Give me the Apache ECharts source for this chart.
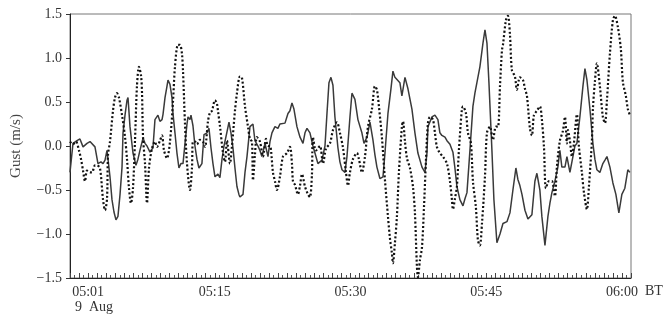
<!DOCTYPE html>
<html>
<head>
<meta charset="utf-8">
<script src="https://cdn.jsdelivr.net/npm/echarts@6/dist/echarts.min.js"></script>
<style>html,body{margin:0;padding:0;background:#fff}#c{width:671px;height:315px}</style>
</head>
<body>
<div id="c"></div>
<script>
// time in minutes after 05:00 (9 Aug, BT)
var tickMinutes = [1, 15, 30, 45, 60];
var tickLabels = ['05:01', '05:15', '05:30', '05:45', '06:00'];
var yTicks = [-1.5, -1.0, -0.5, 0.0, 0.5, 1.0, 1.5];

var solidT = [-1.00,-0.67,-0.23,0.10,0.44,0.88,1.21,1.76,2.09,2.42,2.65,2.87,3.09,3.20,3.42,3.64,3.86,4.08,4.30,4.53,4.75,4.86,5.08,5.30,5.41,5.63,5.96,6.29,6.51,6.73,7.07,7.29,7.51,7.84,8.17,8.39,8.72,8.94,9.17,9.28,9.50,9.72,9.83,10.05,10.27,10.38,10.60,10.82,11.04,11.26,11.49,11.71,11.93,12.04,12.26,12.37,12.59,12.81,13.03,13.25,13.58,13.81,14.03,14.14,14.36,14.58,14.80,15.02,15.35,15.57,15.80,16.02,16.35,16.57,16.79,17.01,17.23,17.45,17.67,17.78,18.12,18.34,18.56,18.89,19.22,19.44,19.77,19.99,20.21,20.55,20.88,21.10,21.32,21.65,21.98,22.20,22.42,22.76,23.09,23.31,23.53,23.75,24.08,24.42,24.75,24.97,25.19,25.52,25.85,26.18,26.40,26.85,27.18,27.40,27.62,27.84,28.06,28.28,28.61,28.83,29.06,29.39,29.61,29.94,30.16,30.49,30.82,31.26,31.49,31.82,32.15,32.48,32.70,32.92,33.25,33.59,33.81,34.14,34.47,34.69,34.91,35.13,35.46,35.68,36.02,36.35,36.79,37.12,37.45,37.90,38.23,38.45,38.56,39.00,39.33,39.66,39.88,40.10,40.44,40.66,40.99,41.32,41.54,41.76,42.09,42.43,42.65,42.87,43.20,43.53,43.75,43.97,44.30,44.64,44.86,45.08,45.30,45.63,45.85,46.18,46.52,46.85,47.07,47.29,47.62,47.95,48.28,48.50,48.72,48.95,49.28,49.61,49.83,50.05,50.38,50.60,50.93,51.15,51.49,51.82,52.04,52.26,52.59,52.92,53.14,53.36,53.70,53.92,54.25,54.58,54.80,55.02,55.35,55.69,55.91,56.13,56.46,56.79,57.01,57.23,57.56,57.89,58.12,58.34,58.67,59.00,59.33,59.66,59.99,60.32,60.65,60.88];
var solidV = [-0.30,0.03,0.06,0.08,-0.01,0.03,0.05,-0.01,-0.20,-0.18,-0.20,-0.16,-0.05,-0.15,-0.35,-0.61,-0.75,-0.84,-0.80,-0.55,-0.24,0.15,0.35,0.52,0.55,0.22,-0.08,-0.22,-0.15,-0.05,0.09,0.03,0.00,-0.07,-0.02,0.30,0.35,0.28,0.30,0.36,0.55,0.68,0.75,0.70,0.55,0.37,0.15,-0.08,-0.25,-0.20,-0.20,0.03,0.25,0.33,0.30,0.35,0.23,0.00,-0.15,-0.25,-0.20,0.13,0.12,0.15,0.20,-0.02,-0.20,-0.35,-0.32,-0.36,-0.15,0.00,0.16,0.27,0.15,-0.02,-0.25,-0.46,-0.55,-0.58,-0.55,-0.30,-0.12,0.22,0.25,0.06,0.00,-0.05,-0.12,0.03,-0.12,0.05,0.15,0.22,0.20,0.25,0.24,0.26,0.37,0.40,0.49,0.42,0.22,0.10,0.03,0.15,0.20,0.15,0.00,-0.12,-0.20,-0.16,0.00,0.37,0.72,0.78,0.69,0.33,-0.02,-0.18,-0.27,-0.30,-0.12,0.33,0.60,0.53,0.30,0.15,0.03,0.10,0.27,0.07,-0.10,-0.24,-0.37,-0.35,-0.08,0.37,0.65,0.85,0.78,0.76,0.72,0.57,0.78,0.65,0.42,0.15,-0.08,-0.24,-0.30,-0.08,0.22,0.33,0.35,0.30,0.15,0.12,0.10,0.06,0.02,-0.07,-0.25,-0.46,-0.61,-0.68,-0.60,-0.53,-0.05,0.45,0.60,0.72,0.90,1.17,1.32,1.17,0.72,-0.05,-0.61,-1.10,-1.00,-0.88,-0.90,-0.86,-0.76,-0.50,-0.25,-0.38,-0.45,-0.55,-0.73,-0.83,-0.82,-0.78,-0.40,-0.31,-0.50,-0.80,-1.13,-0.80,-0.65,-0.53,-0.40,-0.24,-0.05,-0.24,-0.24,-0.12,-0.30,-0.12,0.00,0.03,0.33,0.68,0.88,0.75,0.42,0.03,-0.15,-0.27,-0.30,-0.20,-0.16,-0.12,-0.24,-0.42,-0.55,-0.76,-0.55,-0.48,-0.27,-0.30];

var dotT = [-1.00,-0.67,-0.34,-0.01,0.22,0.44,0.66,0.88,1.21,1.43,1.76,1.98,2.31,2.65,2.87,3.09,3.20,3.42,3.75,3.97,4.19,4.41,4.75,5.08,5.30,5.52,5.74,5.96,6.18,6.40,6.62,6.85,6.96,7.07,7.29,7.51,7.73,8.06,8.39,8.61,8.94,9.17,9.39,9.72,10.05,10.38,10.60,10.93,11.15,11.37,11.49,11.71,11.93,12.26,12.48,12.59,12.81,13.03,13.36,13.69,13.92,14.25,14.47,14.69,15.02,15.24,15.35,15.57,15.91,16.13,16.35,16.68,16.90,17.23,17.45,17.78,18.00,18.34,18.67,18.89,19.11,19.22,19.44,19.66,19.99,20.33,20.66,20.88,21.10,21.43,21.65,21.87,22.20,22.54,22.98,23.31,23.53,23.64,23.86,24.19,24.42,24.64,24.97,25.30,25.52,25.74,25.85,26.18,26.62,26.96,27.29,27.73,28.06,28.50,28.83,29.17,29.50,29.72,29.94,30.27,30.71,30.93,31.26,31.60,31.93,32.37,32.70,32.92,33.14,33.47,33.81,34.14,34.36,34.58,34.69,34.91,35.13,35.35,35.68,35.80,36.02,36.24,36.57,36.90,37.12,37.34,37.45,37.67,37.90,38.12,38.34,38.56,38.78,39.11,39.33,39.55,39.88,40.21,40.66,40.99,41.21,41.32,41.54,41.76,41.98,42.31,42.43,42.76,42.98,43.31,43.53,43.86,44.08,44.30,44.53,44.86,45.08,45.41,45.74,46.07,46.30,46.52,46.74,46.85,47.18,47.40,47.62,47.84,48.17,48.39,48.72,49.06,49.28,49.50,49.83,50.05,50.27,50.60,50.93,51.15,51.38,51.60,51.93,52.26,52.59,52.81,53.14,53.47,53.70,53.92,54.03,54.25,54.47,54.69,55.02,55.24,55.57,55.80,56.13,56.35,56.68,56.79,57.01,57.23,57.56,57.89,58.12,58.34,58.67,59.00,59.22,59.55,59.88,60.10,60.43,60.65,60.88];
var dotV = [0.05,0.02,0.05,-0.05,-0.15,-0.28,-0.40,-0.28,-0.30,-0.30,-0.22,-0.22,-0.25,-0.61,-0.73,-0.60,-0.10,0.05,0.40,0.55,0.60,0.55,0.35,0.10,-0.15,-0.48,-0.65,-0.48,0.05,0.68,0.90,0.80,0.60,0.10,-0.20,-0.65,-0.25,-0.03,0.05,-0.01,0.06,0.12,-0.05,-0.14,0.05,0.50,0.90,1.15,1.15,1.05,0.85,0.25,-0.20,-0.50,-0.25,0.05,0.05,0.02,0.07,0.05,-0.01,0.28,0.38,0.40,0.52,0.48,0.40,0.23,-0.08,-0.18,0.06,-0.20,0.00,0.40,0.60,0.79,0.78,0.45,0.22,0.08,0.05,-0.39,-0.10,0.10,0.05,-0.12,0.08,0.00,0.00,-0.30,-0.40,-0.50,-0.35,-0.12,-0.08,-0.01,-0.20,-0.40,-0.44,-0.55,-0.45,-0.32,-0.46,-0.55,-0.58,-0.32,0.10,-0.05,0.00,-0.20,-0.03,0.03,0.18,0.27,0.15,-0.02,-0.30,-0.45,-0.30,-0.15,-0.08,-0.15,-0.30,-0.12,0.22,0.42,0.68,0.64,0.45,0.10,-0.39,-0.80,-1.05,-1.22,-1.33,-1.10,-0.80,-0.30,0.22,0.28,0.05,-0.14,-0.25,-0.46,-0.76,-1.37,-1.49,-1.30,-1.15,-0.70,-0.16,0.26,0.33,0.30,0.15,-0.01,-0.08,-0.12,-0.20,-0.40,-0.61,-0.72,-0.60,-0.46,-0.05,0.42,0.45,0.37,0.15,0.03,-0.40,-0.70,-1.07,-1.13,-0.88,-0.35,0.15,0.22,0.07,0.22,0.22,0.68,1.09,1.15,1.43,1.48,1.27,0.86,0.79,0.64,0.78,0.75,0.65,0.57,0.20,0.12,0.35,0.40,0.45,0.30,-0.01,-0.48,-0.40,-0.40,-0.57,-0.24,0.06,0.17,0.33,0.03,0.18,0.06,-0.12,0.03,0.36,0.00,-0.30,-0.53,-0.72,-0.46,0.06,0.42,0.73,0.94,0.68,0.33,0.26,0.52,1.05,1.43,1.48,1.35,1.10,0.73,0.57,0.42,0.35];

function pairs(t, v) { return t.map(function (x, i) { return [x, v[i]]; }); }
var labelMap = {};
tickMinutes.forEach(function (m, i) { labelMap[m] = tickLabels[i]; });

var font = '"Liberation Serif", "DejaVu Serif", serif';
var chart = echarts.init(document.getElementById('c'), null, {renderer: 'canvas'});
chart.setOption({
  animation: false,
  backgroundColor: '#fff',
  grid: {left: 70, right: 40, top: 14, bottom: 37, show: true, borderColor: '#777', borderWidth: 1},
  xAxis: {
    type: 'value', min: -1, max: 61, interval: 1,
    axisLine: {show: true, onZero: false, lineStyle: {color: '#222', width: 1}},
    axisTick: {show: true, inside: true, length: 5, lineStyle: {color: '#444'}},
    minorTick: {show: true, splitNumber: 2, length: 3, lineStyle: {color: '#555'}},
    splitLine: {show: false},
    axisLabel: {
      margin: 7, color: '#333', fontFamily: font, fontSize: 14,
      showMinLabel: true, showMaxLabel: true,
      formatter: function (v) { var k = Math.round(v); return (Math.abs(v - k) < 1e-6 && labelMap[k]) ? labelMap[k] : ''; }
    }
  },
  yAxis: {
    type: 'value', min: yTicks[0], max: yTicks[yTicks.length - 1], interval: 0.5,
    name: 'Gust (m/s)', nameLocation: 'middle', nameGap: 46, nameRotate: 90,
    nameTextStyle: {color: '#444', fontFamily: font, fontSize: 15},
    axisLine: {show: true, onZero: false, lineStyle: {color: '#222', width: 1}},
    axisTick: {show: true, inside: false, length: 4, lineStyle: {color: '#333'}},
    splitLine: {show: false},
    axisLabel: {
      margin: 8, color: '#333', fontFamily: font, fontSize: 14,
      formatter: function (v) { return v.toFixed(1).replace('-', '\u2212'); }
    }
  },
  graphic: [
    {type: 'text', left: 75, top: 300, style: {text: '9  Aug', fill: '#333', font: '14px ' + font}},
    {type: 'text', left: 645, top: 284, style: {text: 'BT', fill: '#333', font: '14px ' + font}}
  ],
  series: [
    {
      type: 'line', data: pairs(solidT, solidV), showSymbol: false, symbol: 'none',
      lineStyle: {color: '#3a3a3a', width: 1.5}, z: 2
    },
    {
      type: 'line', data: pairs(dotT, dotV), showSymbol: false, symbol: 'none', smooth: 0.3,
      lineStyle: {color: '#111', width: 2.2, type: [2, 2.2]}, z: 3
    }
  ]
});
</script>
</body>
</html>
